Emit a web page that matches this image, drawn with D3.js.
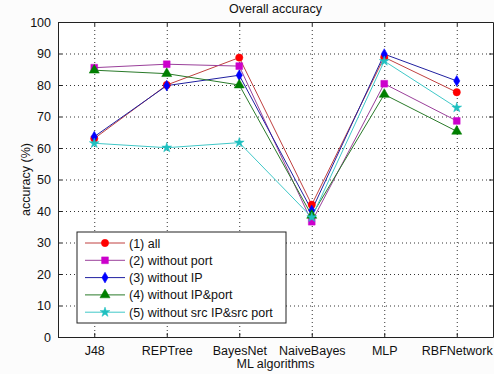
<!DOCTYPE html>
<html>
<head>
<meta charset="utf-8">
<script src="https://cdn.jsdelivr.net/npm/d3@7"></script>
<style>
  body { margin: 0; background: #fcfcfc; }
  svg { font-family: "Liberation Sans", Arial, sans-serif; }
</style>
</head>
<body>
<svg id="chart"></svg>
<script>
const categories = ['J48', 'REPTree', 'BayesNet', 'NaiveBayes', 'MLP', 'RBFNetwork'];
const yTicks = [0, 10, 20, 30, 40, 50, 60, 70, 80, 90, 100];

const seriesNames = ['(1) all', '(2) without port', '(3) without IP', '(4) without IP&port', '(5) without src IP&src port'];
const allVals      = [63.0, 80.0, 88.7, 42.0, 88.8, 77.7];
const noPortVals   = [85.5, 86.6, 86.0, 36.6, 80.4, 68.6];
const noIPVals     = [63.6, 79.8, 83.1, 40.2, 89.8, 81.3];
const noIPPortVals = [84.7, 83.6, 80.0, 38.6, 77.0, 65.3];
const noSrcVals    = [61.5, 60.1, 61.7, 38.0, 87.6, 72.8];

const colors  = ['#ff0000', '#cc00cc', '#0000ff', '#007f00', '#20c0c0'];
const lineCol = ['#c04040', '#9a409a', '#2020a0', '#2a7a2a', '#40c8c8'];
const markers = [d3.symbolCircle, d3.symbolSquare, d3.symbolDiamond, d3.symbolTriangle, d3.symbolStar];
const msize   = [42, 46, 34, 44, 30];
const series  = [allVals, noPortVals, noIPVals, noIPPortVals, noSrcVals];

const W = 494, H = 374;
const margin = {top: 22, right: 1, bottom: 37, left: 58};
const width = W - margin.left - margin.right;
const height = H - margin.top - margin.bottom;

const svg = d3.select('#chart').attr('width', W).attr('height', H);
svg.append('rect').attr('width', W).attr('height', H).attr('fill', '#fcfcfc');

const chart = svg.append('g').attr('transform', `translate(${margin.left}, ${margin.top})`);
chart.append('rect').attr('width', width).attr('height', height).attr('fill', '#fff');

const x = d3.scaleLinear().domain([0.5, 6.5]).range([0, width]);
const y = d3.scaleLinear().domain([0, 100]).range([height, 0]);

/* grid */
chart.append('g')
  .call(d3.axisLeft(y).tickValues(yTicks).tickSize(-width).tickFormat(''))
  .call(g => g.select('.domain').remove())
  .selectAll('line').attr('stroke', '#000').attr('stroke-dasharray', '1,3').attr('stroke-opacity', 0.8);
chart.append('g')
  .call(d3.axisBottom(x).tickValues(d3.range(1, 7)).tickSize(height).tickFormat(''))
  .call(g => g.select('.domain').remove())
  .selectAll('line').attr('stroke', '#000').attr('stroke-dasharray', '1,3').attr('stroke-opacity', 0.8);

/* axes */
chart.append('g')
  .call(d3.axisLeft(y).tickValues(yTicks).tickSizeInner(-4).tickSizeOuter(0).tickPadding(7));
chart.append('g').attr('transform', `translate(0, ${height})`)
  .call(d3.axisBottom(x).tickValues(d3.range(1, 7)).tickFormat(i => categories[i - 1])
        .tickSizeInner(-4).tickSizeOuter(0).tickPadding(9));
chart.append('g').attr('transform', `translate(${width}, 0)`)
  .call(d3.axisRight(y).tickValues(yTicks).tickSizeInner(-4).tickSizeOuter(0).tickFormat(''));
chart.append('g')
  .call(d3.axisTop(x).tickValues(d3.range(1, 7)).tickSizeInner(-4).tickSizeOuter(0).tickFormat(''));
chart.selectAll('.domain').attr('stroke', '#222');
chart.selectAll('.tick line').filter(function () { return this.getAttribute('stroke') === 'currentColor'; })
  .attr('stroke', '#222');
chart.selectAll('.tick text').attr('font-size', 12.5).attr('fill', '#111')
  .attr('font-family', '"Liberation Sans", Arial, sans-serif');

/* lines and markers */
const line = d3.line().x((d, i) => x(i + 1)).y(d => y(d));
series.forEach((vals, s) => {
  chart.append('path').datum(vals)
    .attr('d', line).attr('fill', 'none')
    .attr('stroke', lineCol[s]).attr('stroke-width', 1);
});
series.forEach((vals, s) => {
  chart.selectAll(null).data(vals).enter().append('path')
    .attr('transform', (d, i) => `translate(${x(i + 1)}, ${y(d)})`)
    .attr('d', d3.symbol().type(markers[s]).size(msize[s]))
    .attr('fill', colors[s]).attr('stroke', colors[s]).attr('stroke-width', 0.5);
});

/* legend */
const legend = chart.append('g').attr('transform', 'translate(19, 210)');
legend.append('rect').attr('width', 209).attr('height', 91)
  .attr('fill', '#fff').attr('stroke', '#222').attr('stroke-width', 1);
seriesNames.forEach((name, s) => {
  const gy = 11 + s * 17.3;
  legend.append('line').attr('x1', 8).attr('x2', 48).attr('y1', gy).attr('y2', gy)
    .attr('stroke', lineCol[s]).attr('stroke-width', 1);
  legend.append('path').attr('transform', `translate(28, ${gy})`)
    .attr('d', d3.symbol().type(markers[s]).size(msize[s]))
    .attr('fill', colors[s]).attr('stroke', colors[s]).attr('stroke-width', 0.5);
  legend.append('text').attr('x', 52).attr('y', gy + 4.5)
    .attr('font-size', 12.5).attr('fill', '#111').text(name);
});

/* titles */
svg.append('text').attr('x', margin.left + width / 2).attr('y', 13)
  .attr('text-anchor', 'middle').attr('font-size', 12.5).attr('fill', '#111')
  .text('Overall accuracy');
svg.append('text').attr('x', margin.left + width / 2).attr('y', 368)
  .attr('text-anchor', 'middle').attr('font-size', 12.5).attr('fill', '#111')
  .text('ML algorithms');
svg.append('text').attr('transform', `translate(30, ${margin.top + height / 2}) rotate(-90)`)
  .attr('text-anchor', 'middle').attr('font-size', 12.5).attr('fill', '#111')
  .text('accuracy (%)');
</script>
</body>
</html>
